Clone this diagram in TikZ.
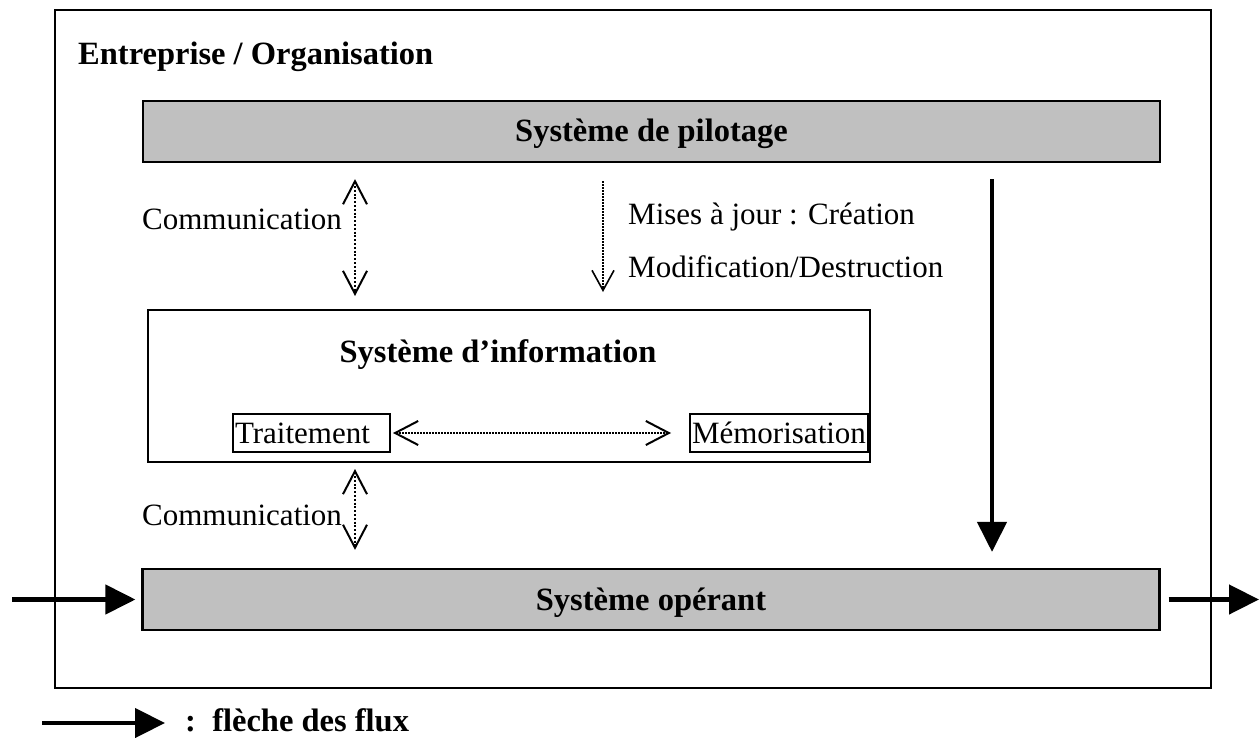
\documentclass[tikz,border=0pt]{standalone}
\usepackage{fontspec}
\setmainfont{Liberation Serif}
\usetikzlibrary{arrows.meta}

\begin{document}
\begin{tikzpicture}[x=1pt,y=1pt,yscale=-1,xscale=1,
  every node/.style={font=\fontsize{31}{37}\selectfont, inner sep=0pt},
  gras/.style={font=\fontsize{32.5}{38}\selectfont\bfseries},
  grisbox/.style={draw, line width=2.2pt, fill={rgb, 255:red, 192; green, 192; blue, 192}, minimum width=1017pt, minimum height=61pt, text height=23pt, text depth=2pt, gras},
  petitbox/.style={draw, line width=2pt, minimum height=38pt},
  comm/.style={line width=2.5pt, dash pattern=on 2pt off 1.8pt, {Straight Barb[length=23pt,width=24pt,line width=2pt]}-{Straight Barb[length=23pt,width=24pt,line width=2pt]}},
  maj/.style={line width=1.3pt, dash pattern=on 1.5pt off 1.5pt, -{Straight Barb[length=20pt,width=22pt,line width=1.6pt]}},
  flux/.style={line width=4.5pt, -{Triangle[length=30pt,width=29pt]}}
]
\useasboundingbox (0,0) rectangle (1260,738);

%Shape: Rectangle
\node[draw, line width=1.8pt, minimum width=1156pt, minimum height=678pt] (cadre) at (633,349) {};
% Text Node
\node[anchor=base west, gras] (entreprise) at (78,65) {Entreprise / Organisation};

%Shape: Rectangle
\node[grisbox] (pilotage) at (651.5,131.5) {Système de pilotage};
\node[grisbox] (operant) at (651,599.5) {Système opérant};

%Shape: Rectangle
\node[draw, line width=2pt, minimum width=722pt, minimum height=152pt] (info) at (509,386) {};
\node[anchor=base, gras] (infotitre) at (498,362) {Système d’information};
\node[petitbox, text width=153pt, inner xsep=2pt, align=left] (traitement) at (311.5,433) {Traitement};
\node[petitbox, minimum width=178pt] (memo) at (779,433) {Mémorisation};

% Text Node
\node[anchor=base west] (comm1) at (142,229) {Communication};
\node[anchor=base west] (comm2) at (142,525) {Communication};
\node[anchor=base west] (maj1) at (628,224) {Mises à jour : Création};
\node[anchor=base west] (maj2) at (628,277) {Modification/Destruction};

\coordinate (c1) at (355,0);
\coordinate (c2) at (603,0);
\coordinate (c3) at (992,0);
\coordinate (entree) at (12,599.5);
\coordinate (sortie) at (1259,599.5);
\coordinate (legdebut) at (42,723);

%Straight Lines
\draw[comm, shorten <=16pt, shorten >=13pt] (pilotage.south -| c1) -- (info.north -| c1);
\draw[maj, shorten <=18pt, shorten >=17pt] (pilotage.south -| c2) -- (info.north -| c2);
\draw[comm, line width=2pt, dash pattern=on 1.5pt off 1.5pt, shorten <=2pt, shorten >=18pt] (traitement.east) -- (memo.west);
\draw[comm, shorten <=6pt, shorten >=18pt] (info.south -| c1) -- (operant.north -| c1);
\draw[flux, shorten <=16pt, shorten >=16pt] (pilotage.south -| c3) -- (operant.north -| c3);
\draw[flux, shorten >=6pt] (entree) -- (operant.west);
\draw[flux, shorten <=8pt] (operant.east) -- (sortie);

% Text Node
\node[anchor=base west, gras] (legende) at (185,731) {:\ \ flèche des flux};
\draw[flux, shorten >=20pt] (legdebut) -- (legdebut -| legende.west);

\end{tikzpicture}
\end{document}
